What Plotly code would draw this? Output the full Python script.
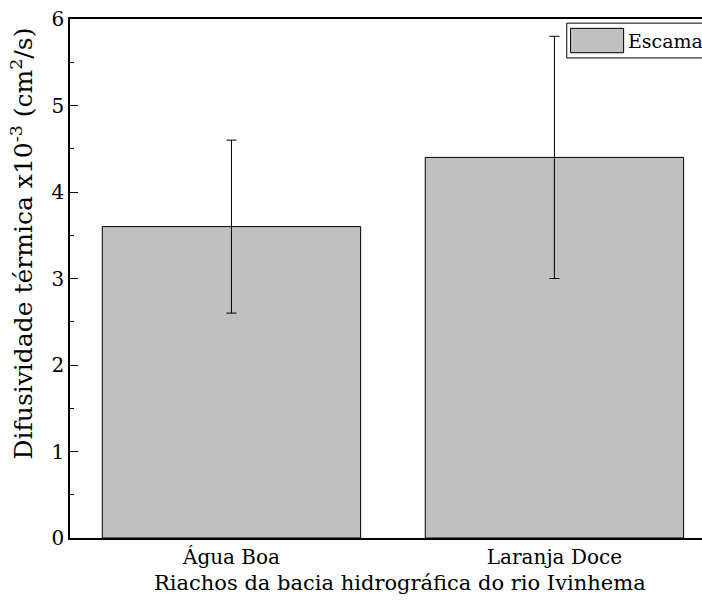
import plotly.graph_objects as go

categories = ["Água Boa", "Laranja Doce"]
values = [3.6, 4.4]
errors = [1.0, 1.4]
series_name = "Escama"
x_title = "Riachos da bacia hidrográfica do rio Ivinhema"
y_title = "Difusividade térmica x10<sup>-3</sup> (cm<sup>2</sup>/s)"

serif = "DejaVu Serif"

fig = go.Figure()
fig.add_trace(go.Bar(
    x=categories,
    y=values,
    name=series_name,
    width=0.8,
    marker=dict(color="#c0c0c0", line=dict(color="black", width=1)),
    error_y=dict(type="data", array=errors, visible=True,
                 color="black", thickness=1, width=5),
    showlegend=False,
))

# legend box drawn in paper coordinates (wide swatch, clipped at the right edge)
fig.add_shape(type="rect", xref="paper", yref="paper",
              x0=0.786, x1=1.2, y0=0.925, y1=0.992,
              line=dict(color="black", width=1), fillcolor="white", layer="above")
fig.add_shape(type="rect", xref="paper", yref="paper",
              x0=0.792, x1=0.876, y0=0.935, y1=0.982,
              line=dict(color="black", width=1), fillcolor="#c0c0c0", layer="above")
fig.add_annotation(text=series_name, xref="paper", yref="paper",
                   x=0.88, y=0.9585, xanchor="left", yanchor="middle",
                   showarrow=False, font=dict(family=serif, size=19, color="black"))

# axis titles
fig.add_annotation(text=x_title, xref="paper", yref="paper",
                   x=(400 - 70) / 632, y=(538 - 583) / 519,
                   xanchor="center", yanchor="middle",
                   showarrow=False, font=dict(family=serif, size=21, color="black"))
fig.add_annotation(text=y_title, xref="paper", yref="paper",
                   x=(41 - 70) / 632, y=(538 - 244) / 519,
                   xanchor="right", yanchor="middle",
                   textangle=-90, showarrow=False,
                   font=dict(family=serif, size=25, color="black"))

fig.update_layout(
    width=702, height=614,
    margin=dict(l=70, r=0, t=19, b=76),
    paper_bgcolor="white", plot_bgcolor="white",
    font=dict(family=serif, size=20, color="black"),
    xaxis=dict(
        range=[-0.5, 1.457],
        showline=True, linecolor="black", linewidth=1.5, mirror=True,
        ticks="", showgrid=False, zeroline=False,
        tickfont=dict(family=serif, size=20),
    ),
    yaxis=dict(
        range=[0, 6],
        tickvals=[0, 1, 2, 3, 4, 5, 6],
        showline=True, linecolor="black", linewidth=1.5,
        ticks="inside", ticklen=8, tickwidth=1, tickcolor="black",
        minor=dict(tickvals=[0.5, 1.5, 2.5, 3.5, 4.5, 5.5],
                   ticks="inside", ticklen=4, tickcolor="black", tickwidth=1),
        showgrid=False, zeroline=False,
        tickfont=dict(family=serif, size=20),
    ),
)

fig.write_html("out.html")
